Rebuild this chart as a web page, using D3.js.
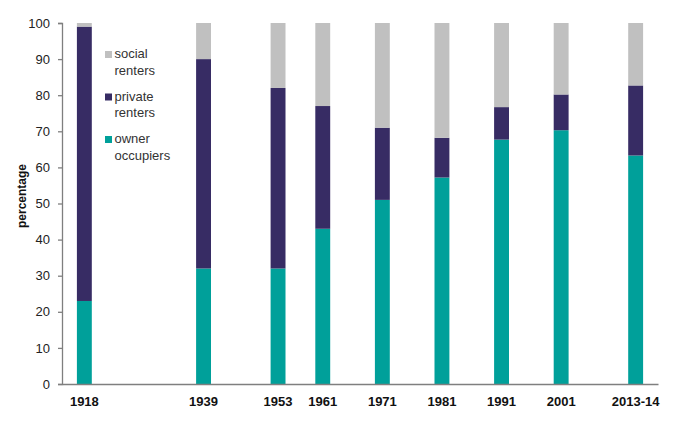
<!DOCTYPE html>
<html>
<head>
<meta charset="utf-8">
<script src="https://cdn.jsdelivr.net/npm/d3@7"></script>
<style>
  html, body { margin: 0; padding: 0; background: #fff; }
  svg { display: block; font-family: "Liberation Sans", Arial, sans-serif; }
</style>
</head>
<body>
<svg id="chart" width="683" height="426"></svg>
<script>
// ---- data ----
const categories = ["1918", "1939", "1953", "1961", "1971", "1981", "1991", "2001", "2013-14"];
// empty category rows before each bar in the source sheet (gives the uneven spacing)
const emptyBefore = [1, 7, 4, 2, 3, 3, 3, 3, 4];
const emptyAfter = 1;
const ownerOccupiers = [23, 32, 32, 43, 51, 57.2, 67.7, 70.3, 63.3];
const privateRenters = [76, 58, 50, 34, 20, 11, 9, 9.9, 19.4];
const socialRenters  = [1, 10, 18, 23, 29, 31.8, 23.3, 19.8, 17.3];
const seriesNames = ["owner occupiers", "private renters", "social renters"];
const yTicks = [0, 10, 20, 30, 40, 50, 60, 70, 80, 90, 100];

// ---- layout ----
const svg = d3.select("#chart");
const plot = { left: 62, right: 658, top: 23, bottom: 384 };
const colors = { "owner occupiers": "#00a09a", "private renters": "#372c64", "social renters": "#c0c0c0" };

// build slot list (category rows including blank ones)
const slotOfBar = [];
let slot = 0;
categories.forEach((c, i) => { slot += emptyBefore[i]; slotOfBar.push(slot); slot += 1; });
const nSlots = slot + emptyAfter;

const x = d3.scaleBand().domain(d3.range(nSlots)).range([plot.left, plot.right]).padding(0);
const y = d3.scaleLinear().domain([0, 100]).range([plot.bottom, plot.top]);

const rows = categories.map((c, i) => ({
  cat: c, slot: slotOfBar[i],
  "owner occupiers": ownerOccupiers[i],
  "private renters": privateRenters[i],
  "social renters": socialRenters[i]
}));
const stacked = d3.stack().keys(seriesNames)(rows);

const g = svg.append("g");
stacked.forEach(layer => {
  g.selectAll(null).data(layer).enter().append("rect")
    .attr("x", d => x(d.data.slot))
    .attr("width", x.bandwidth())
    .attr("y", d => y(Math.min(100, d[1])))
    .attr("height", d => Math.max(0, y(d[0]) - y(Math.min(100, d[1]))))
    .attr("fill", colors[layer.key]);
});

// y axis
const yAxis = svg.append("g")
  .attr("transform", `translate(${plot.left},0)`)
  .call(d3.axisLeft(y).tickValues(yTicks).tickSize(4).tickPadding(8).tickFormat(d3.format("d")));
yAxis.select(".domain").attr("stroke", "#7f7f7f").attr("stroke-width", 1.3);
yAxis.selectAll(".tick line").attr("stroke", "#7f7f7f").attr("stroke-width", 1.3);
yAxis.selectAll(".tick text").attr("fill", "#222").style("font-size", "13px")
  .style("font-family", "'Liberation Sans', Arial, sans-serif");

// x axis
const xAxis = svg.append("g")
  .attr("transform", `translate(0,${plot.bottom})`)
  .call(d3.axisBottom(x).tickValues(slotOfBar).tickSize(0).tickPadding(13)
    .tickFormat(s => categories[slotOfBar.indexOf(s)]));
xAxis.select(".domain").attr("stroke", "#7f7f7f").attr("stroke-width", 1.5);
xAxis.selectAll(".tick text").attr("fill", "#111").style("font-size", "13px").style("font-weight", "bold")
  .style("font-family", "'Liberation Sans', Arial, sans-serif");

// y label
svg.append("text")
  .attr("transform", `translate(26,196) rotate(-90)`)
  .attr("text-anchor", "middle")
  .style("font-size", "12px").style("font-weight", "bold").attr("fill", "#111")
  .text("percentage");

// legend
const legendItems = [
  { key: "social renters", lines: ["social", "renters"] },
  { key: "private renters", lines: ["private", "renters"] },
  { key: "owner occupiers", lines: ["owner", "occupiers"] }
];
const leg = svg.append("g").attr("transform", "translate(105,58)");
legendItems.forEach((it, i) => {
  const gi = leg.append("g").attr("transform", `translate(0,${i * 42.5})`);
  gi.append("rect").attr("x", 0).attr("y", -7).attr("width", 7).attr("height", 7).attr("fill", colors[it.key]);
  it.lines.forEach((t, j) => {
    gi.append("text").attr("x", 9.5).attr("y", j * 16.5)
      .style("font-size", "13px").attr("fill", "#333").text(t);
  });
});
</script>
</body>
</html>
